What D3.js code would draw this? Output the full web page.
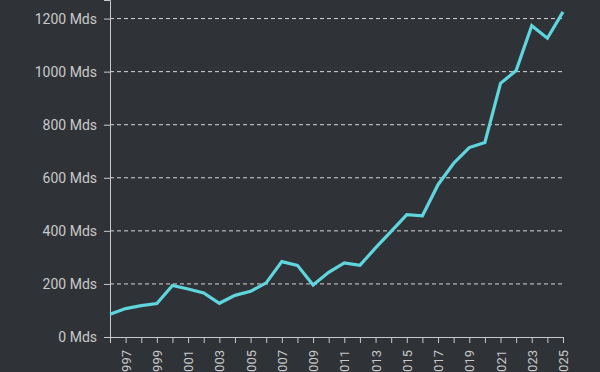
<!DOCTYPE html>
<html>
<head>
<meta charset="utf-8">
<script src="https://cdn.jsdelivr.net/npm/d3@7"></script>
<style>
    html, body { margin: 0; padding: 0; background: #2f3337; }
    svg { display: block; }
    .axis path, .axis line { stroke: #c9c9c9; }
    .grid line { stroke: #d8d8d8; stroke-dasharray: 4,3; }
</style>
</head>
<body>
<svg id="chart" width="600" height="372"></svg>
<script>
var years = [1996, 1997, 1998, 1999, 2000, 2001, 2002, 2003, 2004, 2005,
    2006, 2007, 2008, 2009, 2010, 2011, 2012, 2013, 2014, 2015,
    2016, 2017, 2018, 2019, 2020, 2021, 2022, 2023, 2024, 2025];
var values = [86, 107, 118, 126, 194, 181, 166, 127, 157, 172,
    204, 284, 270, 196, 244, 279, 270, 336, 398, 461,
    457, 574, 655, 714, 733, 956, 1004, 1173, 1126, 1225];
var yTicks = [0, 200, 400, 600, 800, 1000, 1200];

var svg = d3.select("#chart"),
    margin = {top: 0, right: 37, bottom: 35, left: 110},
    width = 600 - margin.left - margin.right,
    height = 372 - margin.top - margin.bottom;

var g = svg.append("g")
    .attr("transform", "translate(" + margin.left + "," + margin.top + ")");

var x = d3.scaleLinear().domain([1996, 2025]).range([0, width]);
var y = d3.scaleLinear().domain([0, 1270]).range([height, 0]);

// dashed grid
g.append("g")
    .attr("class", "grid")
    .selectAll("line")
    .data(yTicks.slice(1))
    .enter().append("line")
    .attr("x1", 0)
    .attr("x2", width)
    .attr("y1", function (d) { return y(d); })
    .attr("y2", function (d) { return y(d); });

var yAxis = g.append("g")
    .attr("class", "axis")
    .call(d3.axisLeft(y).tickValues(yTicks).tickSize(6).tickPadding(7)
        .tickFormat(function (d) { return d + " Mds"; }))
    .attr("font-family", "Roboto")
    .attr("font-size", 14);
yAxis.selectAll("text").attr("fill", "#c9c9c9");

var xAxis = g.append("g")
    .attr("class", "axis")
    .attr("transform", "translate(0," + height + ")")
    .call(d3.axisBottom(x).tickValues(years).tickSize(6).tickSizeOuter(0)
        .tickFormat(function (d) { return d % 2 === 1 ? d : ""; }))
    .attr("font-family", "Roboto")
    .attr("font-size", 13);
xAxis.select(".domain").attr("d", "M-6,0.5H" + width);
xAxis.selectAll("text")
    .attr("fill", "#c9c9c9")
    .style("text-anchor", "end")
    .attr("transform", "rotate(-90)")
    .attr("x", -13)
    .attr("y", 0)
    .attr("dy", ".35em");

var line = d3.line()
    .x(function (d, i) { return x(years[i]); })
    .y(function (d) { return y(d); });

g.append("path")
    .datum(values)
    .attr("fill", "none")
    .attr("stroke", "#5fd6de")
    .attr("stroke-width", 3.2)
    .attr("d", line);
</script>
</body>
</html>
